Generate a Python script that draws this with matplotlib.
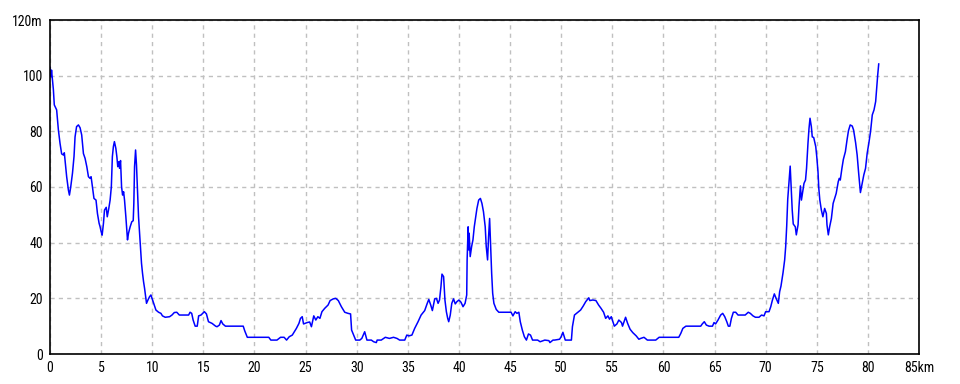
import matplotlib
matplotlib.use('Agg')
import matplotlib.pyplot as plt
from matplotlib import font_manager

# ==[0] elevation profile (km, m)
dist_km = [
    0.0, 0.1, 0.15, 0.33, 0.42, 0.65, 0.82, 0.98, 1.14, 1.31, 1.4, 1.54, 1.63, 1.8, 1.9,
    2.03, 2.2, 2.35, 2.45, 2.6, 2.78, 2.94, 3.1, 3.27, 3.43, 3.6, 3.76, 3.92, 4.02, 4.15,
    4.3, 4.5, 4.64, 4.8, 4.9, 5.0, 5.1, 5.23, 5.33, 5.5, 5.6, 5.75, 5.88, 6.0, 6.1,
    6.2, 6.3, 6.44, 6.54, 6.63, 6.73, 6.8, 6.9, 7.0, 7.1, 7.2, 7.29, 7.42, 7.52, 7.58,
    7.68, 7.84, 8.0, 8.14, 8.2, 8.27, 8.37, 8.46, 8.56, 8.66, 8.76, 8.86, 8.95, 9.05, 9.15,
    9.25, 9.38, 9.44, 9.58, 9.74, 9.87, 10.03, 10.2, 10.36, 10.62, 10.85, 11.0, 11.27, 11.7, 11.93,
    12.16, 12.4, 12.65, 12.9, 13.56, 13.7, 13.86, 14.0, 14.2, 14.4, 14.54, 14.77, 15.1, 15.3, 15.5,
    15.85, 16.2, 16.34, 16.57, 16.73, 16.9, 17.16, 18.9, 19.05, 19.3, 21.4, 21.6, 22.2, 22.55, 22.9,
    23.14, 23.4, 23.7, 23.9, 24.1, 24.35, 24.5, 24.67, 24.8, 25.16, 25.4, 25.57, 25.8, 26.0, 26.2,
    26.4, 26.6, 26.87, 27.2, 27.4, 27.7, 27.95, 28.2, 28.5, 28.83, 29.15, 29.4, 29.5, 29.7, 29.9,
    30.3, 30.5, 30.78, 31.0, 31.43, 31.66, 31.92, 32.0, 32.4, 32.8, 33.2, 33.6, 33.94, 34.2, 34.7,
    34.9, 35.1, 35.4, 35.67, 36.0, 36.3, 36.65, 36.9, 37.05, 37.24, 37.4, 37.63, 37.8, 37.96, 38.1,
    38.24, 38.34, 38.5, 38.63, 38.77, 38.9, 39.0, 39.15, 39.3, 39.47, 39.64, 39.8, 40.0, 40.2, 40.4,
    40.6, 40.76, 40.8, 40.9, 40.95, 41.0, 41.1, 41.24, 41.37, 41.5, 41.64, 41.76, 41.93, 42.1, 42.25,
    42.4, 42.57, 42.67, 42.8, 42.9, 43.0, 43.1, 43.2, 43.3, 43.42, 43.65, 43.9, 45.1, 45.28, 45.5,
    45.67, 45.86, 46.0, 46.2, 46.4, 46.6, 46.8, 47.0, 47.2, 47.7, 47.94, 48.4, 48.8, 48.9, 49.2,
    49.35, 49.84, 50.0, 50.17, 50.4, 51.0, 51.1, 51.3, 51.5, 51.7, 51.9, 52.15, 52.4, 52.7, 52.8,
    53.1, 53.4, 53.66, 53.9, 54.15, 54.35, 54.57, 54.73, 54.9, 55.06, 55.2, 55.45, 55.64, 55.9, 56.0,
    56.3, 56.5, 56.74, 57.0, 57.34, 57.6, 57.78, 58.1, 58.43, 59.25, 59.58, 61.5, 61.7, 61.9, 62.2,
    63.65, 63.8, 64.0, 64.2, 64.46, 64.8, 64.95, 65.1, 65.34, 65.6, 65.8, 66.0, 66.2, 66.35, 66.5,
    66.65, 66.84, 67.07, 67.3, 68.0, 68.3, 68.5, 68.76, 69.0, 69.35, 69.6, 69.84, 70.0, 70.33, 70.5,
    70.65, 70.85, 71.0, 71.1, 71.24, 71.37, 71.5, 71.7, 71.86, 71.96, 72.06, 72.16, 72.3, 72.4, 72.5,
    72.6, 72.7, 72.9, 73.0, 73.17, 73.26, 73.36, 73.4, 73.5, 73.6, 73.75, 73.9, 74.0, 74.14, 74.24,
    74.34, 74.47, 74.56, 74.7, 74.9, 75.0, 75.12, 75.2, 75.3, 75.45, 75.6, 75.77, 75.94, 76.0, 76.13,
    76.26, 76.43, 76.6, 76.75, 76.9, 77.1, 77.2, 77.3, 77.46, 77.6, 77.8, 77.96, 78.1, 78.27, 78.47,
    78.6, 78.8, 78.95, 79.1, 79.27, 79.44, 79.6, 79.77, 79.93, 80.1, 80.26, 80.43, 80.6, 80.76, 80.86,
    80.96, 81.06,
]
elev_m = [
    103.0, 99.6, 102.0, 95.0, 89.5, 87.7, 80.5, 75.7, 71.9, 71.5, 72.3, 67.3, 63.7, 58.9, 57.1,
    60.1, 65.0, 71.0, 78.0, 81.7, 82.3, 81.3, 78.7, 72.0, 70.3, 67.3, 63.7, 63.1, 63.7, 60.1,
    55.9, 55.3, 50.5, 47.0, 45.7, 44.0, 42.7, 47.0, 51.7, 52.7, 49.3, 52.3, 55.3, 60.1, 70.9,
    74.5, 76.3, 73.9, 70.9, 67.3, 69.1, 66.7, 69.5, 60.1, 57.1, 58.3, 55.3, 49.3, 44.0, 41.0,
    43.4, 45.7, 47.5, 47.9, 54.1, 67.3, 73.3, 67.9, 58.3, 49.3, 43.4, 37.4, 32.6, 29.0, 26.0,
    23.6, 20.0, 18.2, 19.4, 20.6, 21.2, 19.4, 17.6, 15.8, 15.0, 14.6, 13.7, 13.2, 13.4, 14.0,
    14.9, 15.0, 14.0, 14.0, 14.0, 15.0, 14.6, 12.2, 10.0, 10.0, 13.7, 14.0, 15.2, 14.4, 11.6,
    11.0, 10.0, 9.8, 10.4, 12.0, 10.8, 10.0, 10.0, 8.3, 6.0, 6.0, 5.0, 5.0, 6.0, 6.0,
    5.0, 6.2, 6.8, 8.0, 9.2, 11.0, 12.8, 13.4, 10.8, 11.3, 11.5, 9.8, 13.7, 12.2, 13.4,
    12.8, 15.2, 16.4, 17.6, 19.2, 19.8, 20.0, 19.2, 17.0, 15.0, 14.6, 14.4, 8.6, 6.8, 5.0,
    5.0, 5.6, 8.0, 5.0, 5.0, 4.4, 4.1, 5.0, 5.0, 6.0, 5.6, 6.0, 5.6, 5.0, 5.0,
    6.8, 6.5, 6.8, 9.2, 11.6, 14.0, 15.6, 18.2, 19.6, 17.6, 15.6, 19.8, 20.0, 18.2, 19.4,
    24.2, 28.7, 27.8, 19.4, 15.2, 12.8, 11.6, 14.0, 18.2, 19.8, 18.0, 18.8, 19.4, 18.6, 17.0,
    18.2, 21.2, 33.8, 45.7, 37.4, 43.4, 35.0, 38.6, 41.0, 45.7, 49.3, 52.3, 55.3, 55.9, 54.1,
    51.1, 45.7, 38.6, 33.8, 42.2, 48.7, 38.6, 29.0, 21.8, 18.2, 16.0, 15.0, 15.0, 13.7, 15.2,
    14.6, 15.0, 11.6, 8.6, 6.2, 5.0, 7.2, 6.8, 5.0, 5.0, 4.4, 5.0, 4.8, 4.1, 5.0,
    5.0, 5.3, 6.2, 7.8, 5.0, 5.0, 9.8, 14.0, 14.6, 15.2, 15.8, 17.2, 18.8, 20.2, 19.2,
    19.4, 19.2, 17.6, 16.4, 15.0, 12.8, 13.7, 12.5, 13.4, 11.6, 10.0, 10.8, 12.2, 11.3, 10.0,
    13.2, 11.0, 8.9, 7.7, 6.5, 5.3, 5.6, 6.0, 5.0, 5.0, 6.0, 6.0, 7.4, 9.2, 10.0,
    10.0, 10.8, 11.6, 10.4, 10.0, 10.0, 11.3, 10.8, 12.2, 14.0, 14.6, 13.4, 11.6, 10.0, 10.0,
    12.8, 15.0, 15.0, 14.0, 14.0, 15.0, 14.6, 13.7, 13.2, 13.2, 14.0, 13.7, 15.2, 15.2, 17.0,
    19.2, 21.6, 20.2, 19.4, 18.2, 22.4, 24.4, 29.2, 33.8, 38.6, 46.0, 55.6, 62.5, 67.5, 60.0,
    51.7, 46.7, 45.7, 42.8, 46.4, 52.9, 58.3, 60.4, 55.3, 57.7, 61.3, 62.5, 66.7, 75.7, 81.0,
    84.7, 81.7, 78.0, 77.8, 74.5, 70.9, 65.5, 59.5, 55.3, 51.7, 49.3, 52.3, 50.5, 46.4, 42.8,
    45.7, 48.7, 54.1, 55.9, 57.7, 61.9, 63.1, 62.5, 66.7, 69.9, 72.7, 76.9, 80.2, 82.3, 81.9,
    80.5, 75.9, 71.5, 64.9, 58.0, 61.3, 64.3, 66.7, 72.1, 75.9, 79.9, 85.9, 87.7, 90.7, 95.4,
    100.2, 104.2,
]

x_ticks = [0, 5, 10, 15, 20, 25, 30, 35, 40, 45, 50, 55, 60, 65, 70, 75, 80, 85]
x_labels = ['0', '5', '10', '15', '20', '25', '30', '35', '40', '45', '50', '55',
            '60', '65', '70', '75', '80', '85km']
y_ticks = [0, 20, 40, 60, 80, 100, 120]
y_labels = ['0', '20', '40', '60', '80', '100', '120m']

# ==[1] pick a narrow font if one is around (reference uses a condensed bitmap font)
installed = {f.name for f in font_manager.fontManager.ttflist}
fam, fsize = 'DejaVu Sans', 9
for cand in ['Liberation Sans Narrow', 'DejaVu Sans Condensed', 'Roboto Condensed']:
    if cand in installed:
        fam, fsize = cand, 10
        break
plt.rcParams['font.family'] = [fam, 'DejaVu Sans']

# ==[2] figure
fig = plt.figure(figsize=(9.6, 3.84), dpi=100)
ax = fig.add_axes([50 / 960, 30 / 384, 869 / 960, 334 / 384])

ax.plot(dist_km, elev_m, color='#0000ff', lw=1.1)

ax.set_xlim(0, 85)
ax.set_ylim(0, 120)
ax.set_xticks(x_ticks)
ax.set_xticklabels(x_labels)
ax.set_yticks(y_ticks)
ax.set_yticklabels(y_labels)
ax.tick_params(length=0, labelsize=fsize, pad=5)

ax.grid(True, color='#c0c0c0', linestyle=(0, (3, 3)), lw=1)
for s in ax.spines.values():
    s.set_color('black')
    s.set_linewidth(1.2)

fig.savefig('out.png', dpi=100)
